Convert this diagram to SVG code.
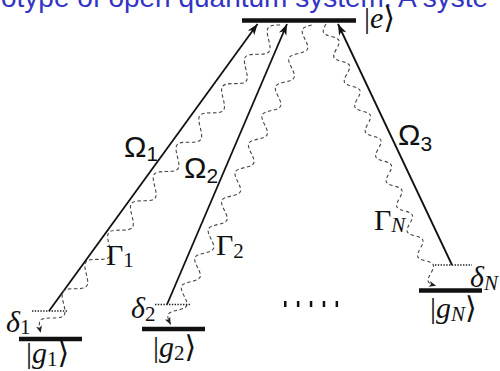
<svg xmlns="http://www.w3.org/2000/svg" width="500" height="371" viewBox="0 0 500 371">
<defs>
<marker id="ah" markerUnits="userSpaceOnUse" markerWidth="12" markerHeight="9" refX="11" refY="4" orient="auto" overflow="visible">
<path d="M0,0 L11,4 L0,8 L3,4 z" fill="#111"/>
</marker>
<marker id="wh" markerUnits="userSpaceOnUse" markerWidth="8" markerHeight="7" refX="7" refY="3" orient="auto" overflow="visible">
<path d="M0,0 L7,3 L0,6 L1.8,3 z" fill="#222"/>
</marker>
<style>
.lvl{stroke:#111;stroke-width:4.5;fill:none}
.virt{stroke:#222;stroke-width:1.3;stroke-dasharray:1.4 1.4;fill:none}
.pump{stroke:#111;stroke-width:1.8;fill:none;marker-end:url(#ah)}
.wave{stroke:#444;stroke-width:1.1;stroke-dasharray:3.5 2.5;fill:none;marker-end:url(#wh)}
.math{font-family:"Liberation Serif","DejaVu Serif",serif;font-size:30px;fill:#111}
.it{font-style:italic}
.sub{font-size:21px}
.om{font-family:"Liberation Sans",Arial,sans-serif;font-size:30px;fill:#111}
.oms{font-size:21px}
.title{font-family:"Liberation Sans",Arial,sans-serif;font-size:28px;fill:#3434c4}
</style>
</defs>
<rect width="500" height="371" fill="#fff"/>
<text class="title" x="1" y="7">otype of open quantum system. A syste</text>

<g id="connectors">
<line class="pump" x1="49" y1="311" x2="257.5" y2="24"/>
<line class="pump" x1="167" y1="304.5" x2="287" y2="24"/>
<line class="pump" x1="452" y1="265" x2="338" y2="24"/>
<path class="wave" transform="translate(280,25) rotate(127.87)" d="M0,0 C7.88,10.3 10.68,10.3 18.56,0 S29.24,-10.3 37.12,0 S47.8,10.3 55.68,0 S66.36,-10.3 74.24,0 S84.92,10.3 92.8,0 S103.48,-10.3 111.36,0 S122.04,10.3 129.92,0 S140.6,-10.3 148.48,0 S159.16,10.3 167.04,0 S177.72,-10.3 185.6,0 S196.28,10.3 204.16,0 S214.84,-10.3 222.72,0 S233.4,10.3 241.28,0 S251.96,-10.3 259.84,0 S270.52,10.3 278.4,0 S289.08,-10.3 296.96,0 S307.64,10.3 315.52,0 S326.2,-10.3 334.08,0 S344.76,10.3 352.64,0 S363.32,-10.3 371.2,0 S381.88,10.3 389.76,0"/>
<path class="wave" transform="translate(311.7,25) rotate(115.22)" d="M0,0 C6.69,8.67 9.07,8.67 15.76,0 S24.83,-8.67 31.52,0 S40.59,8.67 47.28,0 S56.35,-8.67 63.04,0 S72.11,8.67 78.8,0 S87.87,-8.67 94.56,0 S103.63,8.67 110.32,0 S119.39,-8.67 126.08,0 S135.15,8.67 141.84,0 S150.91,-8.67 157.6,0 S166.67,8.67 173.36,0 S182.43,-8.67 189.12,0 S198.19,8.67 204.88,0 S213.95,-8.67 220.64,0 S229.71,8.67 236.4,0 S245.47,-8.67 252.16,0 S261.23,8.67 267.92,0 S276.99,-8.67 283.68,0 S292.75,8.67 299.44,0 S308.51,-8.67 315.2,0 S324.27,8.67 330.96,0"/>
<path class="wave" transform="translate(326,24) rotate(67.2)" d="M0,0 C5.74,7.47 7.78,7.47 13.52,0 S21.3,-7.47 27.04,0 S34.82,7.47 40.56,0 S48.34,-7.47 54.08,0 S61.86,7.47 67.6,0 S75.38,-7.47 81.12,0 S88.9,7.47 94.64,0 S102.42,-7.47 108.16,0 S115.94,7.47 121.68,0 S129.46,-7.47 135.2,0 S142.98,7.47 148.72,0 S156.5,-7.47 162.24,0 S170.02,7.47 175.76,0 S183.54,-7.47 189.28,0 S197.06,7.47 202.8,0 S210.58,-7.47 216.32,0 S224.1,7.47 229.84,0 S237.62,-7.47 243.36,0 S251.14,7.47 256.88,0 S264.66,-7.47 270.4,0 S278.18,7.47 283.92,0"/>
</g>

<g id="level-e">
<line class="lvl" x1="242" y1="20.5" x2="356" y2="20.5"/>
<text class="math" x="364" y="28">|<tspan class="it">e</tspan>⟩</text>
</g>
<g id="level-g1">
<line class="lvl" x1="19" y1="339" x2="82" y2="339"/>
<text class="math" x="26" y="363">|<tspan class="it">g</tspan><tspan class="sub" dy="3">1</tspan><tspan dy="-3">⟩</tspan></text>
</g>
<g id="level-g2">
<line class="lvl" x1="142" y1="329" x2="205" y2="329"/>
<text class="math" x="153" y="357">|<tspan class="it">g</tspan><tspan class="sub" dy="3">2</tspan><tspan dy="-3">⟩</tspan></text>
</g>
<g id="level-gN">
<line class="lvl" x1="419" y1="290.5" x2="482" y2="290.5"/>
<text class="math" x="430" y="318">|<tspan class="it">g</tspan><tspan class="sub it" dy="3">N</tspan><tspan dy="-3">⟩</tspan></text>
</g>
<g id="virtual-1">
<line class="virt" x1="32" y1="311" x2="68" y2="311"/>
<text class="math" x="6" y="332"><tspan class="it">δ</tspan><tspan class="sub" dy="2">1</tspan></text>
</g>
<g id="virtual-2">
<line class="virt" x1="155" y1="304.5" x2="190" y2="304.5"/>
<text class="math" x="131" y="318"><tspan class="it">δ</tspan><tspan class="sub" dy="3">2</tspan></text>
</g>
<g id="virtual-N">
<line class="virt" x1="435" y1="265" x2="472" y2="265"/>
<text class="math" x="470" y="287"><tspan class="it">δ</tspan><tspan class="sub it" dy="3">N</tspan></text>
</g>
<g id="labels">
<text class="om" x="124" y="157">Ω<tspan class="oms" dy="4">1</tspan></text>
<text class="om" x="184" y="178">Ω<tspan class="oms" dy="5">2</tspan></text>
<text class="om" x="398" y="145">Ω<tspan class="oms" dy="6">3</tspan></text>
<text class="math" x="106" y="265">Γ<tspan class="sub" dy="2">1</tspan></text>
<text class="math" x="216" y="255">Γ<tspan class="sub" dy="3">2</tspan></text>
<text class="math" x="374" y="230">Γ<tspan class="sub it" dy="2">N</tspan></text>
</g>
<g id="ellipsis">
<line x1="284" y1="304" x2="340" y2="304" stroke="#111" stroke-width="6" stroke-dasharray="2.5 10.4"/>
</g>
</svg>
